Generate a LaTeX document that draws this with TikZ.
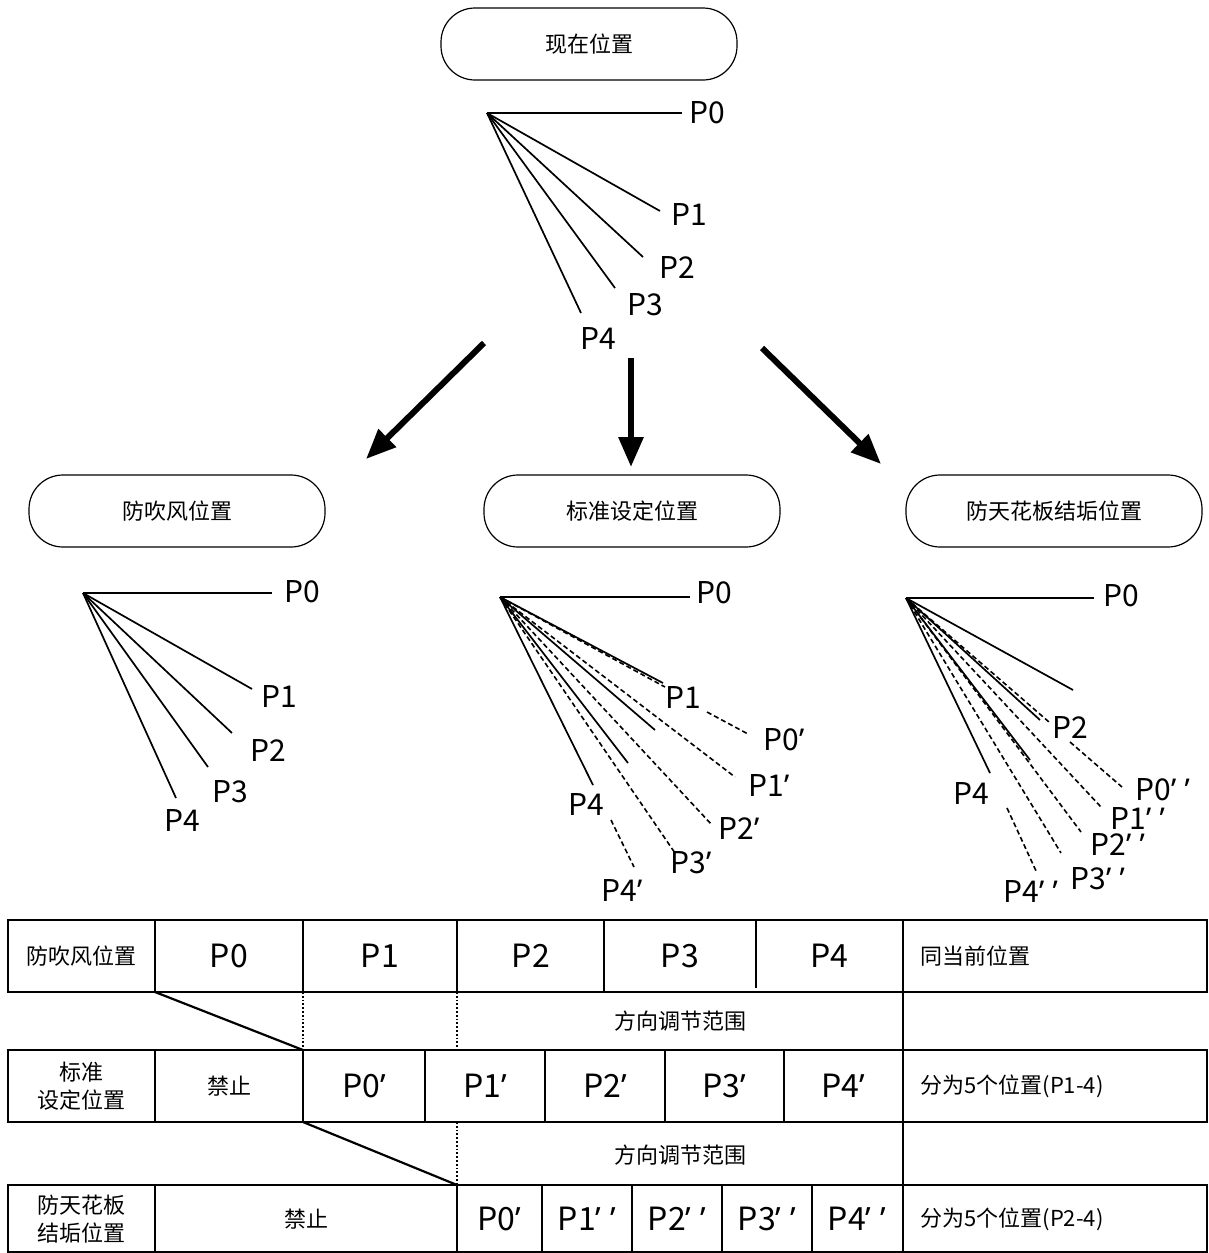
\documentclass[tikz,border=0pt]{standalone}
\usepackage{fontspec}
\setmainfont{Noto Sans CJK SC}
\newfontfamily\quotefont{Noto Sans}
\newcommand\pq{{\quotefont ’}}
\newcommand\ppq{{\quotefont ’\hspace{0.28em}’}}
\usepackage{tikz}
\usetikzlibrary{arrows.meta}

\begin{document}
\begin{tikzpicture}[
    x=0.5pt, y=-0.5pt,
    posbox/.style={draw, rounded corners=17pt, minimum width=148pt,
                   minimum height=36pt, line width=0.6pt,
                   font=\fontsize{11}{13}\selectfont},
    ray/.style={line width=0.85pt},
    dray/.style={line width=0.8pt, dash pattern=on 2.5pt off 1.5pt},
    plabel/.style={inner sep=0pt, font=\fontsize{15}{17}\selectfont},
    bigarrow/.style={-{Triangle[length=15pt, width=12pt]}, line width=3pt},
    cell/.style={inner sep=0pt, align=center, font=\fontsize{11}{14}\selectfont},
    pcell/.style={inner sep=0pt, font=\fontsize{16}{18}\selectfont},
    grid/.style={line width=1.1pt},
    guide/.style={line width=0.9pt, densely dotted},
]
\useasboundingbox (0,0) rectangle (1209,1253);

% Current position
\node[posbox] (cur) at (589,44) {现在位置};
\coordinate (cur-o) at (487,113);
\coordinate (cur-e0) at (682,113);
\coordinate (cur-e1) at (660,211);
\coordinate (cur-e2) at (643,257);
\coordinate (cur-e3) at (615,288);
\coordinate (cur-e4) at (581,313);
\draw[ray] (cur-o) -- (cur-e0);
\draw[ray] (cur-o) -- (cur-e1);
\draw[ray] (cur-o) -- (cur-e2);
\draw[ray] (cur-o) -- (cur-e3);
\draw[ray] (cur-o) -- (cur-e4);
\node[plabel] (cur-p0) at (707,113) {P0};
\node[plabel] (cur-p1) at (689,214) {P1};
\node[plabel] (cur-p2) at (677,267) {P2};
\node[plabel] (cur-p3) at (645,305) {P3};
\node[plabel] (cur-p4) at (598,338) {P4};

% Arrows to the three modes
\coordinate (a1s) at (484,343);
\coordinate (a1e) at (366,459);
\coordinate (a2s) at (631,358);
\coordinate (a2e) at (631,467);
\coordinate (a3s) at (762,348);
\coordinate (a3e) at (881,464);
\draw[bigarrow] (a1s) -- (a1e);
\draw[bigarrow] (a2s) -- (a2e);
\draw[bigarrow] (a3s) -- (a3e);

% Mode boxes
\node[posbox] (wind) at (177,511) {防吹风位置};
\node[posbox] (std) at (632,511) {标准设定位置};
\node[posbox] (ceil) at (1054,511) {防天花板结垢位置};

% Anti-draft fan
\coordinate (wind-o) at (83,593);
\coordinate (wind-e0) at (272,593);
\coordinate (wind-e1) at (252,689);
\coordinate (wind-e2) at (232,733);
\coordinate (wind-e3) at (208,767);
\coordinate (wind-e4) at (176,798);
\draw[ray] (wind-o) -- (wind-e0);
\draw[ray] (wind-o) -- (wind-e1);
\draw[ray] (wind-o) -- (wind-e2);
\draw[ray] (wind-o) -- (wind-e3);
\draw[ray] (wind-o) -- (wind-e4);
\node[plabel] (wind-p0) at (302,592) {P0};
\node[plabel] (wind-p1) at (279,696) {P1};
\node[plabel] (wind-p2) at (268,750) {P2};
\node[plabel] (wind-p3) at (230,792) {P3};
\node[plabel] (wind-p4) at (182,820) {P4};

% Standard fan
\coordinate (std-o) at (500,597);
\coordinate (std-e0) at (690,597);
\coordinate (std-e1) at (663,683);
\coordinate (std-e2) at (655,730);
\coordinate (std-e3) at (628,763);
\coordinate (std-e4) at (593,785);
\coordinate (std-d0a) at (665,687);
\coordinate (std-d0b) at (707,712);
\coordinate (std-d0c) at (748,734);
\coordinate (std-d1) at (735,777);
\coordinate (std-d2) at (712,825);
\coordinate (std-d3) at (675,853);
\coordinate (std-d4a) at (611,820);
\coordinate (std-d4b) at (634,867);
\draw[ray] (std-o) -- (std-e0);
\draw[ray] (std-o) -- (std-e1);
\draw[ray] (std-o) -- (std-e2);
\draw[ray] (std-o) -- (std-e3);
\draw[ray] (std-o) -- (std-e4);
\draw[dray] (std-o) -- (std-d0a) (std-d0b) -- (std-d0c);
\draw[dray] (std-o) -- (std-d1);
\draw[dray] (std-o) -- (std-d2);
\draw[dray] (std-o) -- (std-d3);
\draw[dray] (std-d4a) -- (std-d4b);
\node[plabel] (std-p0) at (714,593) {P0};
\node[plabel] (std-p1) at (683,697) {P1};
\node[plabel] (std-p4) at (586,804) {P4};
\node[plabel, anchor=west] (std-q0) at (763,740) {P0\pq};
\node[plabel, anchor=west] (std-q1) at (748,785) {P1\pq};
\node[plabel, anchor=west] (std-q2) at (718,828) {P2\pq};
\node[plabel, anchor=west] (std-q3) at (670,863) {P3\pq};
\node[plabel, anchor=west] (std-q4) at (601,890) {P4\pq};

% Anti-smudge fan
\coordinate (ceil-o) at (906,598);
\coordinate (ceil-e0) at (1094,598);
\coordinate (ceil-e1) at (1073,690);
\coordinate (ceil-e2) at (1040,720);
\coordinate (ceil-e3) at (1030,760);
\coordinate (ceil-e4) at (990,773);
\coordinate (ceil-d0a) at (1049,722);
\coordinate (ceil-d0b) at (1070,742);
\coordinate (ceil-d0c) at (1122,787);
\coordinate (ceil-d1) at (1101,807);
\coordinate (ceil-d2) at (1081,832);
\coordinate (ceil-d3) at (1061,853);
\coordinate (ceil-d4a) at (1007,808);
\coordinate (ceil-d4b) at (1037,873);
\draw[ray] (ceil-o) -- (ceil-e0);
\draw[ray] (ceil-o) -- (ceil-e1);
\draw[ray] (ceil-o) -- (ceil-e2);
\draw[ray] (ceil-o) -- (ceil-e3);
\draw[ray] (ceil-o) -- (ceil-e4);
\draw[dray] (ceil-o) -- (ceil-d0a) (ceil-d0b) -- (ceil-d0c);
\draw[dray] (ceil-o) -- (ceil-d1);
\draw[dray] (ceil-o) -- (ceil-d2);
\draw[dray] (ceil-o) -- (ceil-d3);
\draw[dray] (ceil-d4a) -- (ceil-d4b);
\node[plabel] (ceil-p0) at (1121,596) {P0};
\node[plabel] (ceil-p2) at (1070,727) {P2};
\node[plabel] (ceil-p4) at (971,793) {P4};
\node[plabel, anchor=west] (ceil-q0) at (1135,790) {P0\ppq};
\node[plabel, anchor=west] (ceil-q1) at (1110,818) {P1\ppq};
\node[plabel, anchor=west] (ceil-q2) at (1090,844) {P2\ppq};
\node[plabel, anchor=west] (ceil-q3) at (1070,879) {P3\ppq};
\node[plabel, anchor=west] (ceil-q4) at (1003,891) {P4\ppq};

% Table: anti-draft row
\draw[grid] (8,920) rectangle (1207,992);
\draw[grid] (155,920) -- (155,992) (303,920) -- (303,992) (457,920) -- (457,992)
    (604,920) -- (604,992) (756,920) -- (756,988) (903,920) -- (903,992);
\node[cell] (t1-name) at (81,956) {防吹风位置};
\node[pcell] (t1-p0) at (229,956) {P0};
\node[pcell] (t1-p1) at (380,956) {P1};
\node[pcell] (t1-p2) at (531,956) {P2};
\node[pcell] (t1-p3) at (680,956) {P3};
\node[pcell] (t1-p4) at (829,956) {P4};
\node[cell, anchor=west] (t1-note) at (920,956) {同当前位置};

% Table: range between rows
\draw[grid] (155,992) -- (303,1050);
\draw[guide] (303,992) -- (303,1050) (457,992) -- (457,1050);
\draw[grid] (903,992) -- (903,1050);
\node[cell] (g1) at (680,1021) {方向调节范围};

% Table: standard row
\draw[grid] (8,1050) rectangle (1207,1122);
\draw[grid] (155,1050) -- (155,1122) (303,1050) -- (303,1122) (425,1050) -- (425,1122)
    (545,1050) -- (545,1122) (665,1050) -- (665,1122) (784,1050) -- (784,1122)
    (903,1050) -- (903,1122);
\node[cell] (t2-name) at (81,1086) {标准\\设定位置};
\node[cell] (t2-no) at (229,1086) {禁止};
\node[pcell] (t2-p0) at (364,1086) {P0\pq};
\node[pcell] (t2-p1) at (485,1086) {P1\pq};
\node[pcell] (t2-p2) at (605,1086) {P2\pq};
\node[pcell] (t2-p3) at (724,1086) {P3\pq};
\node[pcell] (t2-p4) at (843,1086) {P4\pq};
\node[cell, anchor=west] (t2-note) at (920,1086) {分为5个位置(P1-4)};

% Table: range between rows
\draw[grid] (303,1122) -- (457,1185);
\draw[guide] (457,1122) -- (457,1185);
\draw[grid] (903,1122) -- (903,1185);
\node[cell] (g2) at (680,1155) {方向调节范围};

% Table: anti-smudge row
\draw[grid] (8,1185) rectangle (1207,1252);
\draw[grid] (155,1185) -- (155,1252) (457,1185) -- (457,1252) (542,1185) -- (542,1252)
    (632,1185) -- (632,1252) (722,1185) -- (722,1252) (812,1185) -- (812,1252)
    (903,1185) -- (903,1252);
\node[cell] (t3-name) at (81,1219) {防天花板\\结垢位置};
\node[cell] (t3-no) at (306,1219) {禁止};
\node[pcell] (t3-p0) at (499,1219) {P0\pq};
\node[pcell] (t3-p1) at (587,1219) {P1\ppq};
\node[pcell] (t3-p2) at (677,1219) {P2\ppq};
\node[pcell] (t3-p3) at (767,1219) {P3\ppq};
\node[pcell] (t3-p4) at (857,1219) {P4\ppq};
\node[cell, anchor=west] (t3-note) at (920,1219) {分为5个位置(P2-4)};
\end{tikzpicture}
\end{document}
